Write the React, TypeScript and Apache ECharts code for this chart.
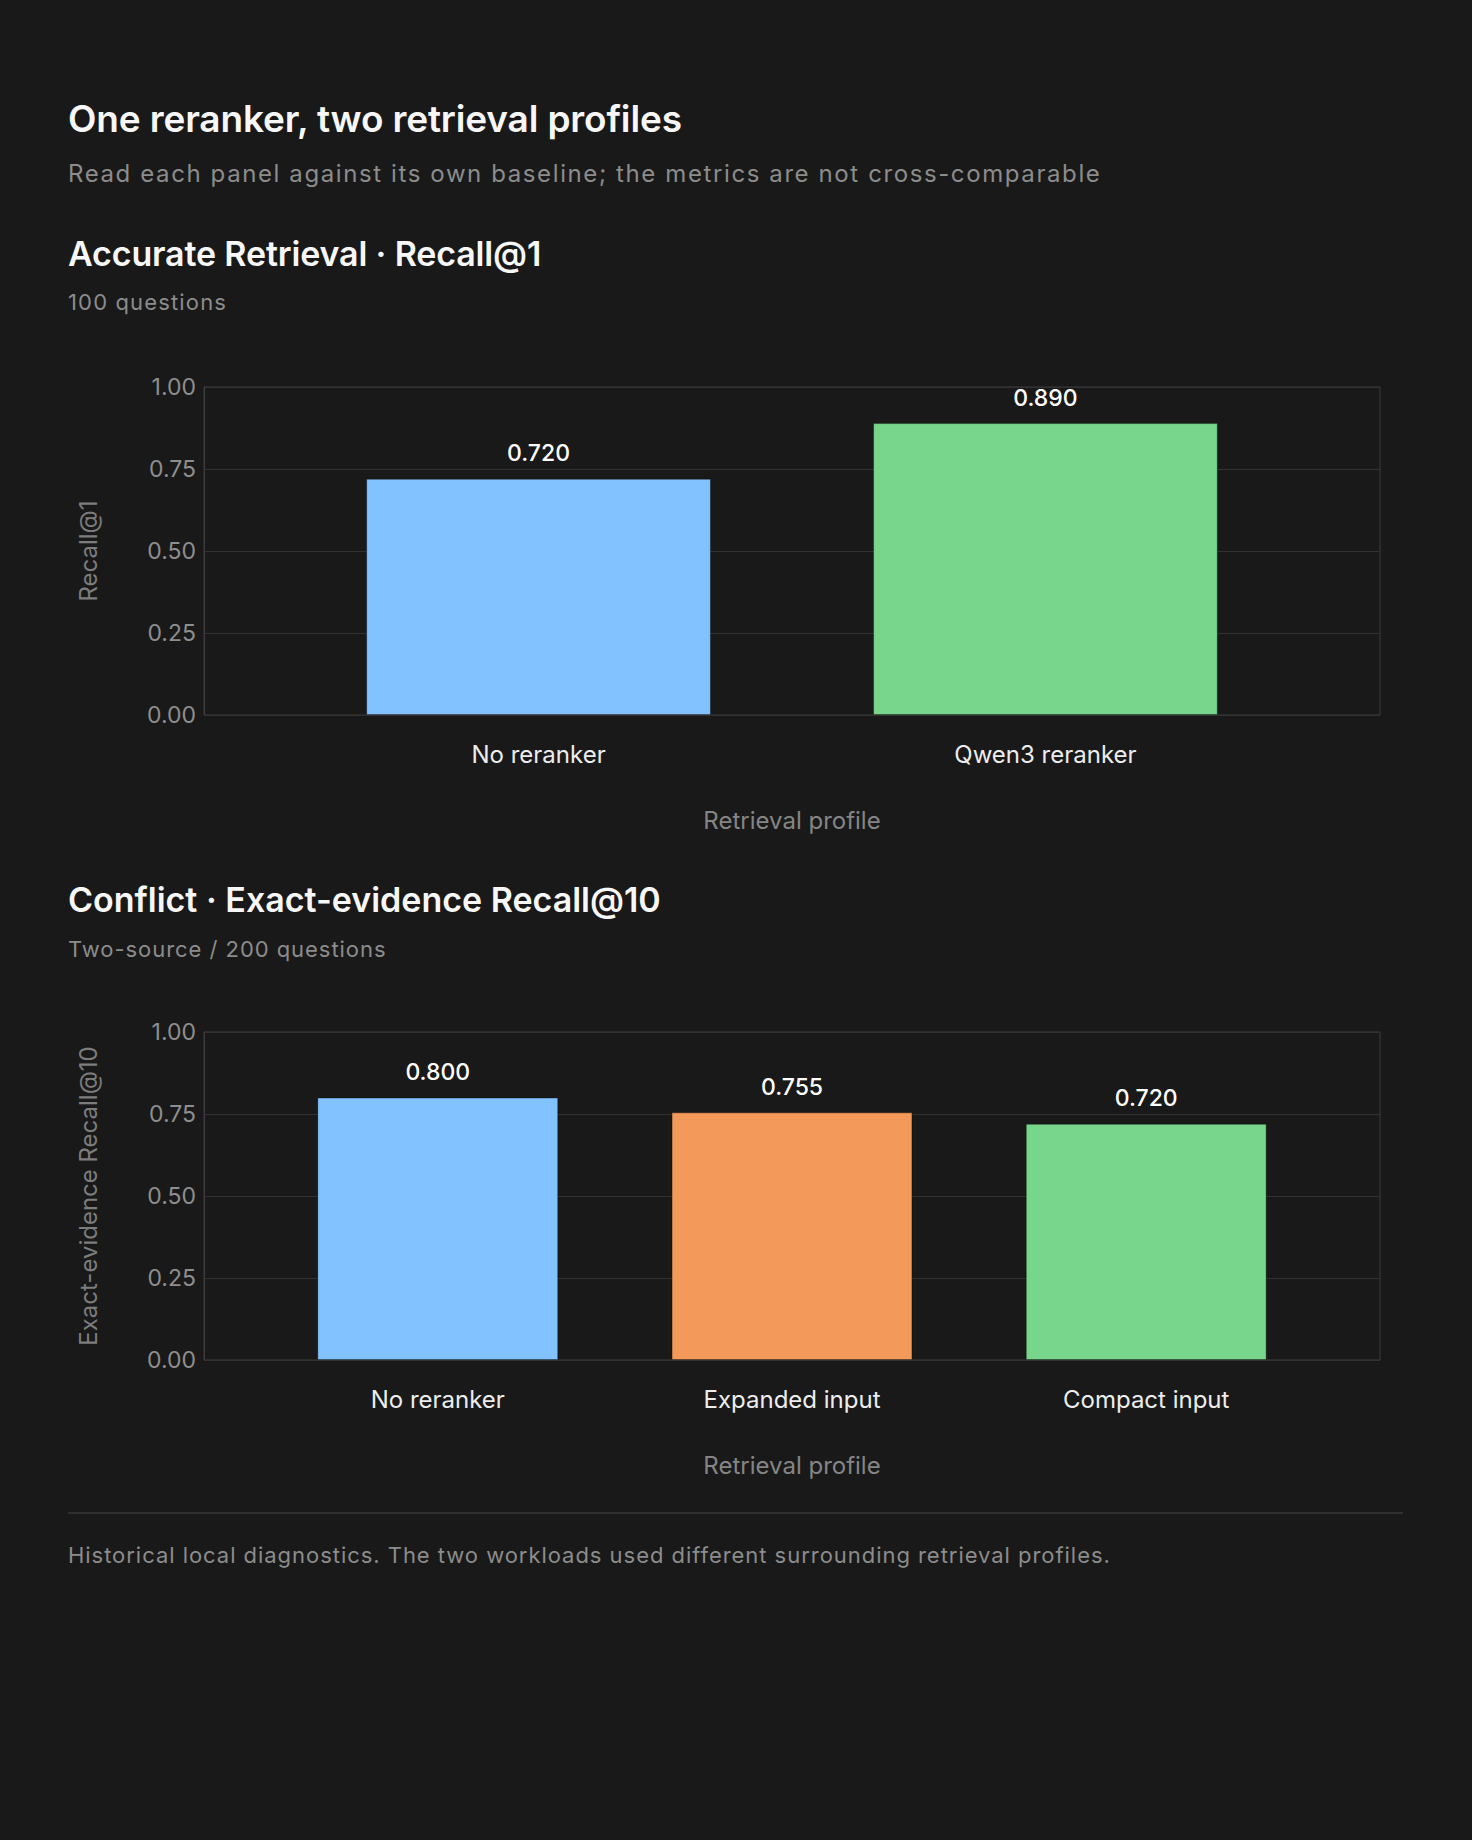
import { useEffect, useRef } from 'react'
import * as echarts from 'echarts'

const accurateCategories = ['No reranker', 'Qwen3 reranker']
const accurateValues = [0.72, 0.89]
const accurateColors = ['#82c3ff', '#77d58c']

const conflictCategories = ['No reranker', 'Expanded input', 'Compact input']
const conflictValues = [0.8, 0.755, 0.72]
const conflictColors = ['#82c3ff', '#f39a5a', '#77d58c']

const PAGE_W = 1472
const FONT = 'Inter, "Noto Sans", sans-serif'
const BG = '#191919'

// plot frame inside each chart div
const PLOT_LEFT = 204
const PLOT_RIGHT = 1380
const PLOT_TOP = 57
const PLOT_H = 328
const CHART_H = 530

type PanelProps = {
  top: number
  categories: string[]
  values: number[]
  colors: string[]
  yName: string
}

function BarPanel({ top, categories, values, colors, yName }: PanelProps) {
  const elRef = useRef<HTMLDivElement | null>(null)

  useEffect(() => {
    if (!elRef.current) return
    const chart = echarts.init(elRef.current, undefined, { renderer: 'svg' })
    const plotW = PLOT_RIGHT - PLOT_LEFT
    // band scale with 0.32 padding: outer bands start a bit further in than echarts' own split
    const step = plotW / (categories.length + 0.32)
    const inset = 0.16 * step

    chart.setOption({
      animation: false,
      backgroundColor: 'transparent',
      textStyle: { fontFamily: FONT },
      grid: [
        {
          left: PLOT_LEFT,
          width: plotW,
          top: PLOT_TOP,
          height: PLOT_H,
          show: true,
          borderColor: '#3c3c3c',
          borderWidth: 1,
        },
        {
          left: PLOT_LEFT + inset,
          width: plotW - inset * 2,
          top: PLOT_TOP,
          height: PLOT_H,
        },
      ],
      xAxis: [
        { type: 'value', gridIndex: 0, min: 0, max: 1, show: false },
        {
          type: 'category',
          gridIndex: 1,
          data: categories,
          axisLine: { show: false },
          axisTick: { show: false },
          axisLabel: { color: '#ededed', fontSize: 24, margin: 27, fontFamily: FONT },
          name: 'Retrieval profile',
          nameLocation: 'middle',
          nameGap: 93,
          nameTextStyle: { color: '#858585', fontSize: 24, fontFamily: FONT },
        },
      ],
      yAxis: [
        {
          type: 'value',
          gridIndex: 0,
          min: 0,
          max: 1,
          interval: 0.25,
          axisLine: { show: true, lineStyle: { color: '#3c3c3c' } },
          axisTick: { show: false },
          axisLabel: {
            color: '#8e8e8e',
            fontSize: 23,
            margin: 8,
            fontFamily: FONT,
            formatter: (v: number) => v.toFixed(2),
          },
          splitLine: { show: true, lineStyle: { color: '#313131', width: 1 } },
          name: yName,
          nameLocation: 'middle',
          nameGap: 104,
          nameTextStyle: { color: '#7d7d7d', fontSize: 24, fontFamily: FONT },
        },
        { type: 'value', gridIndex: 1, min: 0, max: 1, show: false },
      ],
      series: [
        {
          type: 'bar',
          xAxisIndex: 1,
          yAxisIndex: 1,
          barWidth: '68%',
          data: values.map((v, i) => ({
            value: v,
            itemStyle: { color: colors[i], borderColor: 'rgba(0,0,0,0.3)', borderWidth: 1 },
          })),
          label: {
            show: true,
            position: 'top',
            distance: 14,
            color: '#ffffff',
            fontSize: 23,
            fontWeight: 500,
            fontFamily: FONT,
            formatter: (p: any) => Number(p.value).toFixed(3),
          },
        },
      ],
    })

    return () => {
      chart.dispose()
    }
  }, [categories, values, colors, yName])

  return (
    <div
      ref={elRef}
      style={{ position: 'absolute', left: 0, top, width: PAGE_W, height: CHART_H }}
    />
  )
}

// positions a line of text by its baseline (Inter: ascent .969, descent .242)
function Line({
  text,
  baseline,
  size,
  color,
  weight = 400,
  spacing = 0,
}: {
  text: string
  baseline: number
  size: number
  color: string
  weight?: number
  spacing?: number
}) {
  return (
    <div
      style={{
        position: 'absolute',
        left: 68,
        top: baseline - 0.864 * size,
        fontSize: size,
        lineHeight: 1,
        fontWeight: weight,
        color,
        letterSpacing: spacing,
        whiteSpace: 'nowrap',
      }}
    >
      {text}
    </div>
  )
}

export default function App() {
  useEffect(() => {
    document.body.style.margin = '0'
    document.body.style.background = BG
  }, [])

  return (
    <div
      style={{
        position: 'relative',
        width: PAGE_W,
        height: 1840,
        background: BG,
        fontFamily: FONT,
        overflow: 'hidden',
      }}
    >
      <Line text="One reranker, two retrieval profiles" baseline={132} size={37} color="#f7f7f7" weight={600} spacing={-0.15} />
      <Line
        text="Read each panel against its own baseline; the metrics are not cross-comparable"
        baseline={183}
        size={24}
        color="#8c8c8c"
        spacing={1.6}
      />

      <Line text="Accurate Retrieval · Recall@1" baseline={266} size={34} color="#f7f7f7" weight={600} spacing={-0.15} />
      <Line text="100 questions" baseline={310} size={22} color="#8c8c8c" spacing={1.15} />
      <BarPanel
        top={330}
        categories={accurateCategories}
        values={accurateValues}
        colors={accurateColors}
        yName="Recall@1"
      />

      <Line text="Conflict · Exact-evidence Recall@10" baseline={912} size={34} color="#f7f7f7" weight={600} spacing={0} />
      <Line text="Two-source / 200 questions" baseline={957} size={22} color="#8c8c8c" spacing={0.95} />
      <BarPanel
        top={975}
        categories={conflictCategories}
        values={conflictValues}
        colors={conflictColors}
        yName="Exact-evidence Recall@10"
      />

      <div style={{ position: 'absolute', left: 68, width: 1335, top: 1512, height: 2, background: '#2f2f2f' }} />
      <Line
        text="Historical local diagnostics. The two workloads used different surrounding retrieval profiles."
        baseline={1563}
        size={22}
        color="#8c8c8c"
        spacing={0.96}
      />
    </div>
  )
}
